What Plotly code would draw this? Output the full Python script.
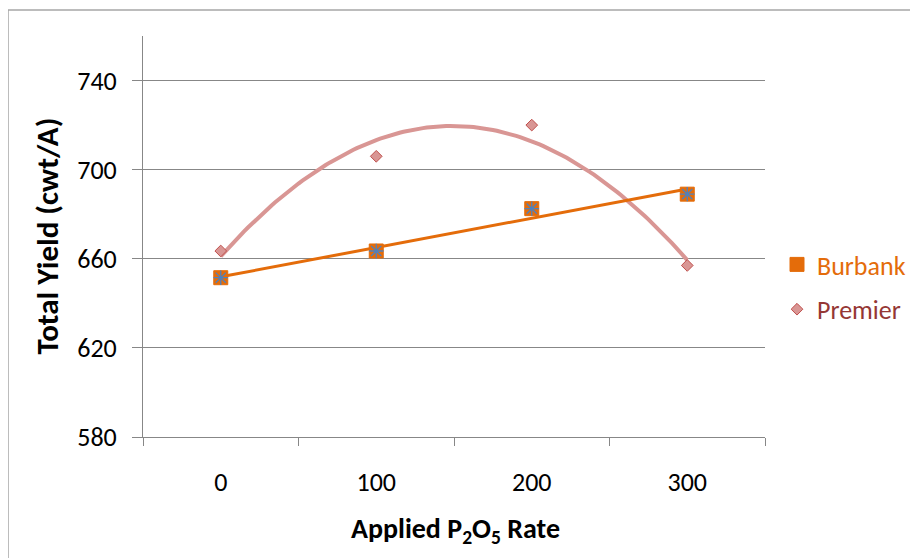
import numpy as np
import plotly.graph_objects as go

rates = [0, 100, 200, 300]
burbank = [651.5, 663.5, 682.5, 689]
premier = [663.5, 706, 720, 657]
y_ticks = [580, 620, 660, 700, 740]

# page has an 8px body margin, so the figure is drawn 8px smaller/offset
W, H = 910, 550
L, T = 135, 28
pw, ph = 622, 401
R, B = W - L - pw, H - T - ph

FONT = "Carlito, Calibri, Lato, sans-serif"
ORANGE = "#E46C0A"
BLUE = "#4F81BD"
PINK = "#D99694"
RED = "#C0504D"
DARKRED = "#953735"
GRID = "#878787"

# trendlines fitted from data
xs = np.linspace(0, 300, 121)
b_fit = np.polyval(np.polyfit(rates, burbank, 1), xs)
p_fit = np.polyval(np.polyfit(rates, premier, 2), xs)

fig = go.Figure()
fig.add_trace(go.Scatter(x=xs, y=p_fit, mode="lines", line=dict(color=PINK, width=4),
                         showlegend=False, hoverinfo="skip"))
fig.add_trace(go.Scatter(x=xs, y=b_fit, mode="lines", line=dict(color=ORANGE, width=3),
                         showlegend=False, hoverinfo="skip"))
fig.add_trace(go.Scatter(x=rates, y=burbank, mode="markers", legendgroup="b",
                         name=f"<span style='color:{ORANGE}'>Burbank</span>",
                         marker=dict(symbol="square", size=14, color=ORANGE,
                                     line=dict(color=ORANGE, width=1))))
fig.add_trace(go.Scatter(x=rates, y=burbank, mode="markers", legendgroup="b", showlegend=False,
                         marker=dict(symbol="asterisk-open", size=12, color=BLUE,
                                     line=dict(color=BLUE, width=1.3))))
fig.add_trace(go.Scatter(x=rates, y=premier, mode="markers", legendgroup="p",
                         name=f"<span style='color:{DARKRED}'>Premier</span>",
                         marker=dict(symbol="diamond", size=9, color=PINK,
                                     line=dict(color=RED, width=1))))

fig.update_layout(
    width=W, height=H,
    margin=dict(l=L, r=R, t=T, b=B, pad=0, autoexpand=False),
    paper_bgcolor="white", plot_bgcolor="white",
    font=dict(family=FONT, size=26, color="black"),
    legend=dict(x=(769 - L) / pw, y=(T + ph - 279) / ph, xanchor="left", yanchor="middle",
                font=dict(family=FONT, size=26), tracegroupgap=8,
                itemwidth=30, bgcolor="rgba(0,0,0,0)"),
    shapes=[dict(type="rect", xref="paper", yref="paper",
                 x0=-L / pw, y0=-(B + 20) / ph,
                 x1=(pw + R + 20) / pw, y1=(T + ph - 2) / ph,
                 line=dict(color="#A6A6A6", width=1.5), layer="below")],
    annotations=[
        dict(text="<b>Total Yield (cwt/A)</b>", xref="paper", yref="paper",
             x=(38 - L) / pw, y=0.5, xanchor="center", yanchor="middle", textangle=-90,
             showarrow=False, font=dict(family=FONT, size=31, color="black")),
        dict(text="<b>Applied P<sub>2</sub>O<sub>5</sub> Rate</b>", xref="paper", yref="paper",
             x=(447 - L) / pw, y=-(522 - T - ph) / ph, xanchor="center", yanchor="middle",
             showarrow=False, font=dict(family=FONT, size=28, color="black")),
    ],
)
fig.update_xaxes(
    range=[-50, 350], tickvals=rates, ticktext=[str(r) for r in rates],
    ticks="", showgrid=False, zeroline=False,
    showline=True, linecolor=GRID, linewidth=1,
    minor=dict(tick0=-50, dtick=100, ticks="outside", ticklen=8, tickcolor=GRID, showgrid=False),
    tickfont=dict(size=26, family=FONT), ticklabelstandoff=22,
)
fig.update_yaxes(
    range=[580, 760], tickvals=y_ticks, ticks="outside", ticklen=10, tickcolor=GRID,
    showgrid=True, gridcolor=GRID, gridwidth=1, zeroline=False,
    showline=True, linecolor=GRID, linewidth=1,
    tickfont=dict(size=26, family=FONT), ticklabelstandoff=10,
)

fig.write_html("out.html")
